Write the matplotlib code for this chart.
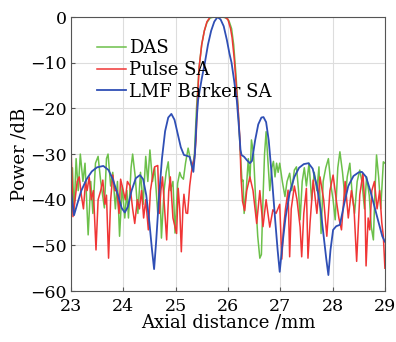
import numpy as np
import matplotlib
matplotlib.use("Agg")
import matplotlib.pyplot as plt

# DAS
das_x = [23.00, 23.03, 23.06, 23.10, 23.14, 23.18, 23.23, 23.27, 23.33, 23.38, 23.42, 23.47,
         23.52, 23.57, 23.64, 23.68, 23.71, 23.76, 23.80, 23.85, 23.89, 23.93, 23.98, 24.03,
         24.07, 24.10, 24.15, 24.18, 24.23, 24.28, 24.33, 24.38, 24.43, 24.47, 24.51, 24.56,
         24.60, 24.66, 24.70, 24.73, 24.78, 24.82, 24.86, 24.90, 24.95, 24.99, 25.04, 25.08,
         25.11, 25.15, 25.19, 25.24, 25.28, 25.32, 25.36, 25.40, 25.45, 25.50, 25.55, 25.60,
         25.66, 25.72, 25.80, 25.90, 25.97, 26.02, 26.07, 26.11, 26.15, 26.19, 26.23, 26.27,
         26.29, 26.31, 26.35, 26.39, 26.42, 26.45, 26.49, 26.53, 26.57, 26.61, 26.64, 26.67,
         26.70, 26.73, 26.76, 26.80, 26.84, 26.87, 26.90, 26.93, 26.96, 26.99, 27.04, 27.09,
         27.13, 27.18, 27.22, 27.27, 27.31, 27.35, 27.38, 27.42, 27.46, 27.50, 27.55, 27.60,
         27.65, 27.70, 27.74, 27.78, 27.82, 27.87, 27.92, 27.97, 28.01, 28.05, 28.10, 28.14,
         28.19, 28.24, 28.28, 28.33, 28.37, 28.42, 28.47, 28.52, 28.56, 28.61, 28.65, 28.70,
         28.74, 28.78, 28.81, 28.84, 28.88, 28.92, 28.95, 28.97, 29.00]
das_y = [-38, -33, -43, -31, -38, -30, -36, -32, -47.7, -36, -43, -32,
         -30.5, -36, -41.8, -31, -30, -37, -34, -42, -36, -48, -37, -44,
         -38, -44, -33, -30, -35, -43, -34, -41, -30.5, -36, -29.1, -36,
         -33, -43, -37, -48.4, -38, -34, -31.7, -38, -36, -47.3, -36.4, -34,
         -35, -35.5, -32, -28.7, -31, -33.5, -30, -20, -11, -6, -3, -1.2,
         -0.2, 0, 0, 0, -0.2, -0.8, -2.5, -6, -12, -19, -28, -36,
         -35.7, -43, -38, -31, -36, -26.9, -30, -40, -48, -52.8, -52, -40,
         -30, -25.1, -30.6, -38, -33, -31.6, -35, -32, -34, -32, -36, -39.3,
         -36, -34.2, -38, -33.5, -32.8, -38, -44.4, -36, -33, -37, -32, -40,
         -34, -38, -32.8, -47.4, -36, -33, -31, -37, -40, -44.4, -33, -29.5,
         -34, -40, -35, -32, -38, -43, -36, -33.5, -36, -42, -35, -39,
         -46, -48.8, -38, -30.2, -35, -42, -36, -31.7, -32]

# Pulse SA
pulse_x = [23.00, 23.02, 23.04, 23.08, 23.12, 23.16, 23.20, 23.24, 23.28, 23.31, 23.35, 23.39,
           23.43, 23.48, 23.52, 23.57, 23.61, 23.65, 23.68, 23.72, 23.76, 23.80, 23.84, 23.88,
           23.92, 23.95, 24.00, 24.04, 24.08, 24.13, 24.18, 24.22, 24.27, 24.31, 24.35, 24.39,
           24.43, 24.48, 24.52, 24.56, 24.60, 24.66, 24.69, 24.72, 24.75, 24.79, 24.83, 24.87,
           24.90, 24.95, 25.02, 25.05, 25.08, 25.11, 25.14, 25.16, 25.20, 25.23, 25.27, 25.30,
           25.33, 25.36, 25.39, 25.42, 25.45, 25.50, 25.55, 25.60, 25.66, 25.75, 25.85, 25.94,
           26.00, 26.05, 26.08, 26.12, 26.16, 26.20, 26.23, 26.25, 26.28, 26.32, 26.36, 26.42,
           26.48, 26.55, 26.61, 26.67, 26.73, 26.80, 26.86, 26.92, 26.99, 27.03, 27.06, 27.10,
           27.15, 27.18, 27.21, 27.27, 27.32, 27.38, 27.41, 27.45, 27.50, 27.53, 27.57, 27.63,
           27.70, 27.76, 27.83, 27.89, 27.95, 28.01, 28.07, 28.12, 28.17, 28.24, 28.30, 28.36,
           28.41, 28.46, 28.52, 28.58, 28.62, 28.64, 28.68, 28.71, 28.75, 28.80, 28.85, 28.90,
           28.94, 28.97, 29.00]
pulse_y = [-27.5, -35, -43.7, -40, -36, -35, -39, -42, -36, -38, -35, -40,
           -38, -51, -40, -38, -35.7, -41, -39, -52.8, -40, -34.6, -38, -38,
           -43, -35.5, -38, -40, -36, -37, -42, -45.2, -40, -42, -38, -44,
           -40, -46.6, -38, -35, -32.8, -32.5, -43, -38, -35, -42, -48.8, -38,
           -35, -44, -47.4, -37.5, -42, -51.4, -42, -38.8, -42.9, -43, -37, -34.2,
           -32, -31, -27, -18, -11, -6, -3, -1, 0, 0, 0, 0,
           -0.5, -2.5, -4.5, -9, -15, -21, -27, -35, -40.4, -42.4, -38, -35,
           -38, -45.2, -38, -45.9, -40, -46, -42.2, -43, -41, -53, -46.6, -42,
           -37.9, -52.5, -42, -37, -40, -46, -52.5, -43, -37.5, -52.8, -45, -35.7,
           -43, -35, -40, -48, -38, -34.6, -40, -44, -46.6, -36, -44, -38,
           -42, -53.5, -38.9, -34.2, -42, -54.5, -44, -46.6, -38, -36, -42, -38,
           -45, -48, -55]

# LMF Barker SA
lmf_x = [23.00, 23.06, 23.12, 23.20, 23.30, 23.40, 23.50, 23.62, 23.72, 23.80, 23.90, 23.97,
         24.03, 24.09, 24.16, 24.24, 24.32, 24.38, 24.44, 24.50, 24.55, 24.59, 24.63, 24.68,
         24.74, 24.80, 24.86, 24.92, 24.98, 25.04, 25.10, 25.16, 25.22, 25.27, 25.31, 25.34,
         25.37, 25.40, 25.43, 25.50, 25.56, 25.62, 25.68, 25.74, 25.80, 25.86, 25.92, 25.98,
         26.03, 26.07, 26.12, 26.17, 26.21, 26.24, 26.26, 26.31, 26.36, 26.42, 26.46, 26.52,
         26.58, 26.64, 26.68, 26.73, 26.78, 26.84, 26.90, 26.95, 26.99, 27.04, 27.10, 27.18,
         27.27, 27.36, 27.45, 27.54, 27.62, 27.70, 27.77, 27.83, 27.88, 27.92, 27.96, 28.01,
         28.07, 28.14, 28.22, 28.30, 28.40, 28.50, 28.56, 28.64, 28.72, 28.80, 28.88, 28.95,
         29.00]
lmf_y = [-37.9, -43.4, -41, -38, -35.5, -33.8, -32.9, -32.6, -33.5, -35.5, -39, -41.8,
         -42.8, -41.5, -38, -35.3, -34.6, -35.5, -39, -45, -51, -55.2, -49, -40,
         -31, -25, -22, -21.2, -22.5, -25.5, -28.5, -30.2, -30.4, -30.6, -32.5, -33.9,
         -30, -23, -18.2, -13.5, -10, -6, -3, -1, 0, -0.5, -2, -5,
         -8, -10, -14, -18.2, -24, -29, -30.2, -30.6, -31.3, -32, -31.5, -27,
         -23.5, -22, -21.9, -23, -27, -35, -44, -51, -55.8, -50, -44, -38.5,
         -35, -33, -32.2, -32, -33.2, -37, -42, -48, -53, -56.5, -51, -46.6,
         -45.8, -45.5, -41, -37, -34.8, -34, -33.9, -35, -38, -41.5, -45, -48,
         -49.2]

x_ticks = [23, 24, 25, 26, 27, 28, 29]
y_ticks = [0, -10, -20, -30, -40, -50, -60]

plt.rcParams["font.family"] = ["DejaVu Serif"]
plt.rcParams["axes.unicode_minus"] = True

fig = plt.figure(figsize=(3.96, 3.42), dpi=100)
ax = fig.add_axes([0.179, 0.149, 0.793, 0.801])

ax.plot(das_x, das_y, color="#6cc04a", lw=1.1, label="DAS")
ax.plot(pulse_x, pulse_y, color="#f03535", lw=1.1, label="Pulse SA")
ax.plot(lmf_x, lmf_y, color="#2f4fb5", lw=1.3, label="LMF Barker SA")

ax.set_xlim(23, 29)
ax.set_ylim(-60, 0)
ax.set_xticks(x_ticks)
ax.set_yticks(y_ticks)
ax.grid(True, color="#dddddd", lw=0.8)
ax.set_axisbelow(True)
ax.tick_params(direction="in", length=3, labelsize=12.5, color="#555555", pad=3)
ax.tick_params(axis="x", pad=5)
for s in ax.spines.values():
    s.set_color("#555555")
    s.set_linewidth(0.8)

ax.set_xlabel("Axial distance /mm", fontsize=13, labelpad=-1)
ax.set_ylabel("Power /dB", fontsize=13, labelpad=1)

leg = ax.legend(loc="upper left", bbox_to_anchor=(0.06, 0.945), frameon=False,
                fontsize=13, handlelength=1.6, handletextpad=0.2,
                labelspacing=0.2, borderaxespad=0)

fig.savefig("out.png", dpi=100)
